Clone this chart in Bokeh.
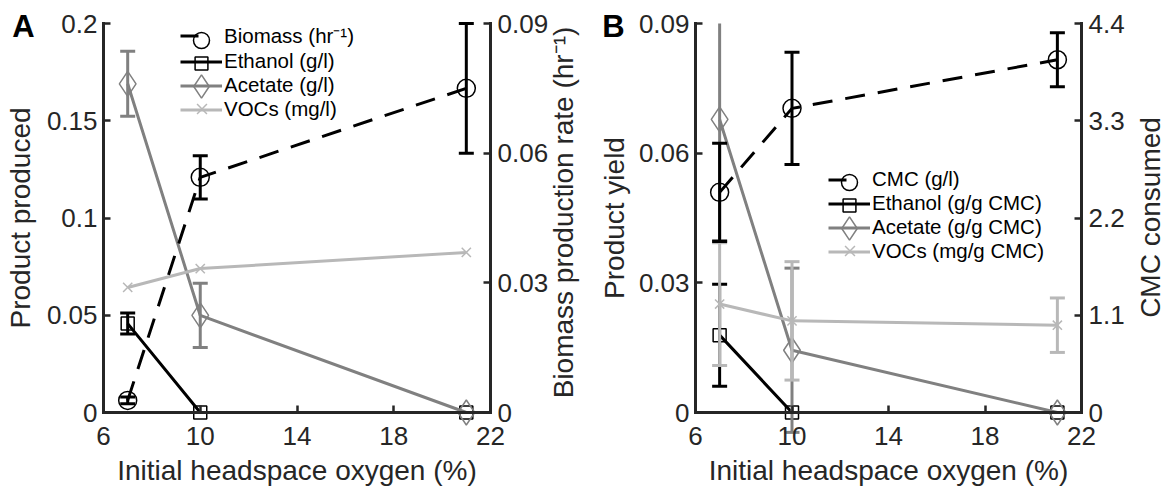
import math
from bokeh.plotting import figure
from bokeh.models import (Range1d, LinearAxis, FixedTicker, Legend, LegendItem, Label,
                          CustomJSTickFormatter)
from bokeh.layouts import row
from bokeh.embed import file_html
from bokeh.resources import INLINE

# ---------------- data ----------------
oxygen = [7, 10, 21]

# Panel A
biomass_rate = [0.0028, 0.0544, 0.0750]
biomass_err = [0.0008, 0.0050, 0.0150]
ethanol_a = [0.0457, 0.0, 0.0]
ethanol_a_err = [0.0054, 0.0, 0.0]
acetate_a = [0.169, 0.0499, 0.0]
acetate_a_err = [0.0167, 0.0165, 0.0]
vocs_a = [0.0643, 0.0740, 0.0823]
vocs_a_err = [0.0, 0.0, 0.0]

# Panel B
cmc_consumed = [2.49, 3.44, 3.99]
cmc_err = [0.555, 0.634, 0.306]
ethanol_b = [0.0179, 0.0, 0.0]
ethanol_b_err = [0.0118, 0.0, 0.0]
acetate_b = [0.0678, 0.0144, 0.0]
acetate_b_err = [0.028, 0.019, 0.0]
vocs_b = [0.0251, 0.0212, 0.0202]
vocs_b_err = [0.0142, 0.0137, 0.0063]

x_limits = (6, 22)
x_ticks = [6, 10, 14, 18, 22]
a_left_limits = (0, 0.2)
a_left_ticks = [0, 0.05, 0.1, 0.15, 0.2]
a_right_limits = (0, 0.09)
a_right_ticks = [0, 0.03, 0.06, 0.09]
b_left_limits = (0, 0.09)
b_left_ticks = [0, 0.03, 0.06, 0.09]
b_right_limits = (0, 4.4)
b_right_ticks = [0, 1.1, 2.2, 3.3, 4.4]

legend_a = ["Biomass (hr\u207b\u00b9)", "Ethanol (g/l)", "Acetate (g/l)", "VOCs (mg/l)"]
legend_b = ["CMC (g/l)", "Ethanol (g/g CMC)", "Acetate (g/g CMC)", "VOCs (mg/g CMC)"]

# ---------------- style / layout ----------------
W, H = 584, 487
FR_TOP, FR_BOTTOM = 23, 412
FONT = "Liberation Sans"
AX = "#262626"
BLACK = "#000000"
GRAY = "#808080"
LIGHT = "#b8b8b8"
DASH = "20 13"

STYLES = [  # color, marker, plot size, legend size, dash
    (BLACK, "circle", 18, 16, DASH),
    (BLACK, "square", 13, 13, "solid"),
    (GRAY, "diamond", 25, 23, "solid"),
    (LIGHT, "x", 13, 14, "solid"),
]


def full_range(lims, p0, p1, total):
    """Range over the whole canvas so that lims map onto pixels p0..p1."""
    v0, v1 = lims
    ppu = (p1 - p0) / (v1 - v0)
    start = v0 - p0 / ppu
    return Range1d(start, start + total / ppu)


def style_axis(ax, ticks, standoff):
    ax.ticker = FixedTicker(ticks=ticks)
    ax.formatter = CustomJSTickFormatter(code="return String(tick);")
    ax.axis_line_width = 3
    ax.axis_line_color = AX
    ax.axis_line_cap = "square"
    ax.major_tick_line_width = 2.5
    ax.major_tick_line_color = AX
    ax.major_tick_in = 7
    ax.major_tick_out = 0
    ax.minor_tick_line_color = None
    ax.major_label_text_font = FONT
    ax.major_label_text_font_size = "26px"
    ax.major_label_text_color = AX
    ax.major_label_standoff = standoff
    ax.axis_label_text_font = FONT
    ax.axis_label_text_font_size = "28px"
    ax.axis_label_text_font_style = "normal"
    ax.axis_label_text_color = AX


def make_panel(fl, fr, left_lims, right_lims, left_ticks, right_ticks, ylabel, ylab_standoff):
    ybot, ytop = H - FR_BOTTOM, H - FR_TOP
    p = figure(width=W, height=H,
               x_range=full_range(x_limits, fl, fr, W),
               y_range=full_range(left_lims, ybot, ytop, H),
               x_axis_location=None, y_axis_location=None,
               output_backend="svg", toolbar_location=None,
               min_border_left=0, min_border_right=0, min_border_top=0, min_border_bottom=0)
    p.extra_y_ranges = {"right": full_range(right_lims, ybot, ytop, H)}
    p.outline_line_color = None
    p.xgrid.visible = False
    p.ygrid.visible = False
    p.background_fill_color = "white"
    p.border_fill_color = "white"

    xax = LinearAxis(fixed_location=left_lims[0], bounds=x_limits,
                     axis_label="Initial headspace oxygen (%)")
    style_axis(xax, x_ticks, 14)
    xax.axis_label_standoff = 7
    p.add_layout(xax, "below")

    lax = LinearAxis(fixed_location=x_limits[0], bounds=left_lims, axis_label=ylabel)
    style_axis(lax, left_ticks, 6)
    lax.axis_label_standoff = ylab_standoff
    p.add_layout(lax, "left")

    rax = LinearAxis(y_range_name="right", fixed_location=x_limits[1], bounds=right_lims)
    style_axis(rax, right_ticks, 7)
    p.add_layout(rax, "right")
    return p


def series(p, xs, ys, err, style, ymax, rng="default"):
    color, marker, msize, _, dash = style
    p.line(xs, ys, line_color=color, line_width=3, line_dash=dash, y_range_name=rng)
    ex = [x for x, e in zip(xs, err) if e > 0]
    lo = [y - e for y, e in zip(ys, err) if e > 0]
    hi = [y + e for y, e in zip(ys, err) if e > 0]
    if ex:
        # bars are cut at the top of the axes, like the original
        hi_cut = [min(h, ymax) for h in hi]
        p.segment(x0=ex, y0=lo, x1=ex, y1=hi_cut, line_color=color, line_width=3,
                  y_range_name=rng)
        cx = ex + [x for x, h in zip(ex, hi) if h <= ymax * 1.0001]
        cy = lo + [h for h in hi if h <= ymax * 1.0001]
        p.scatter(cx, cy, marker="dash", size=15, line_color=color, line_width=3,
                  y_range_name=rng)
    p.scatter(xs, ys, marker=marker, size=msize, line_color=color, fill_color=None,
              line_width=1.5, y_range_name=rng)


def add_legend(p, labels, gx, first_row_cy):
    nan = float("nan")
    row_h = 23
    items = []
    for lab, st in zip(labels, STYLES):
        color, marker, _, lsize, dash = st
        ldash = "18 30" if dash != "solid" else "solid"
        r = p.line([nan], [nan], line_color=color, line_width=3, line_dash=ldash)
        items.append(LegendItem(label=lab, renderers=[r]))
    top = first_row_cy - row_h // 2
    bottom = top + 4 * row_h
    leg = Legend(items=items, location=(gx, H - bottom), glyph_width=42, glyph_height=row_h,
                 label_height=row_h, label_standoff=2, spacing=0, padding=0, margin=0,
                 label_text_font=FONT, label_text_font_size="20.5px", label_text_color=BLACK,
                 border_line_color=None, background_fill_alpha=0)
    p.add_layout(leg)
    for i, st in enumerate(STYLES):
        color, marker, _, lsize, _ = st
        g = int(round(lsize / 0.4))
        r = p.scatter([nan], [nan], marker=marker, size=lsize, line_color=color, fill_color=None,
                      line_width=1.5)
        cy = first_row_cy + i * row_h
        ml = Legend(items=[LegendItem(label=" ", renderers=[r])],
                    location=(gx + 21 - g // 2, H - (cy + g // 2)),
                    glyph_width=g, glyph_height=g, label_standoff=0, spacing=0, padding=0,
                    margin=0, label_text_font_size="1px", border_line_color=None,
                    background_fill_alpha=0)
        p.add_layout(ml)


def add_text(p, text, sx, sy, size, bold=False, angle=0.0, color=BLACK):
    p.add_layout(Label(x=sx, y=H - sy, x_units="screen", y_units="screen", text=text,
                       angle=angle, text_font=FONT, text_font_size=size,
                       text_font_style="bold" if bold else "normal", text_color=color,
                       text_align="center", text_baseline="middle"))


# ---------------- panel A ----------------
pA = make_panel(103, 490, a_left_limits, a_right_limits, a_left_ticks, a_right_ticks,
                "Product produced", 8)
series(pA, oxygen, ethanol_a, ethanol_a_err, STYLES[1], a_left_limits[1])
series(pA, oxygen, acetate_a, acetate_a_err, STYLES[2], a_left_limits[1])
series(pA, oxygen, vocs_a, vocs_a_err, STYLES[3], a_left_limits[1])
series(pA, oxygen, biomass_rate, biomass_err, STYLES[0], a_right_limits[1], rng="right")
add_legend(pA, legend_a, 180, 40)
add_text(pA, "A", 23, 26, "31px", bold=True)
add_text(pA, "Biomass production rate (hr\u207b\u00b9)", 563, 212, "28px",
         angle=math.pi / 2, color=AX)

# ---------------- panel B ----------------
pB = make_panel(111, 497, b_left_limits, b_right_limits, b_left_ticks, b_right_ticks,
                "Product yield", 6)
series(pB, oxygen, ethanol_b, ethanol_b_err, STYLES[1], b_left_limits[1])
series(pB, oxygen, acetate_b, acetate_b_err, STYLES[2], b_left_limits[1])
series(pB, oxygen, vocs_b, vocs_b_err, STYLES[3], b_left_limits[1])
series(pB, oxygen, cmc_consumed, cmc_err, STYLES[0], b_right_limits[1], rng="right")
add_legend(pB, legend_b, 244, 182)
add_text(pB, "B", 29, 26, "31px", bold=True)
add_text(pB, "CMC consumed", 566, 217, "28px", angle=math.pi / 2, color=AX)

layout = row(pA, pB)
open("out.html", "w").write(file_html(layout, INLINE))
